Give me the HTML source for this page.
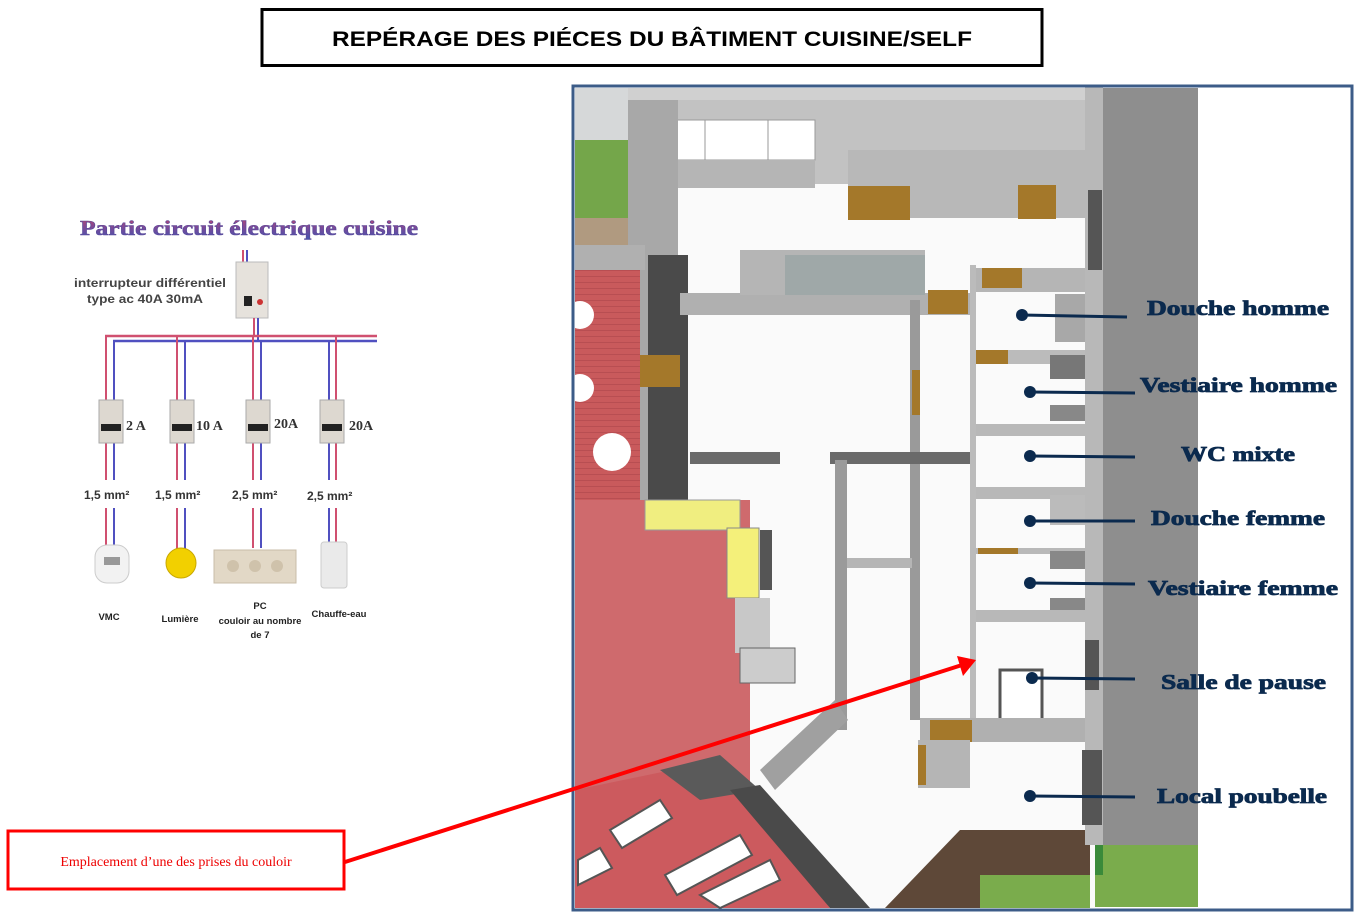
<!DOCTYPE html>
<html><head><meta charset="utf-8"><style>
html,body{margin:0;padding:0;background:#fff;width:1360px;height:916px;overflow:hidden}
svg{display:block}
</style></head><body>
<svg width="1360" height="916" viewBox="0 0 1360 916" xmlns="http://www.w3.org/2000/svg">
<defs>
<linearGradient id="tg" x1="0" y1="0" x2="0" y2="1"><stop offset="0" stop-color="#c0436a"/><stop offset="0.5" stop-color="#7a4a9a"/><stop offset="1" stop-color="#3f55b0"/></linearGradient>
<pattern id="stripe" width="6" height="6" patternUnits="userSpaceOnUse"><rect width="6" height="6" fill="#c95a5c"/><rect width="6" height="1" fill="#b84e52"/></pattern>
</defs>
<!-- Title -->
<rect x="262" y="9.5" width="780" height="56" fill="#fff" stroke="#000" stroke-width="3"/>
<text x="652" y="46" text-anchor="middle" font-family="Liberation Sans, sans-serif" font-weight="bold" font-size="21" textLength="640" lengthAdjust="spacingAndGlyphs">REPÉRAGE DES PIÉCES DU BÂTIMENT CUISINE/SELF</text>

<!-- Left circuit -->
<text x="80" y="235" font-family="Liberation Serif, serif" font-weight="900" font-size="21" fill="url(#tg)" stroke="#5a4a9a" stroke-width="0.6" textLength="338" lengthAdjust="spacingAndGlyphs">Partie circuit électrique cuisine</text>
<text x="74" y="287" font-family="Liberation Sans, sans-serif" font-weight="bold" font-size="12" fill="#444" textLength="152" lengthAdjust="spacingAndGlyphs">interrupteur différentiel</text>
<text x="87" y="303" font-family="Liberation Sans, sans-serif" font-weight="bold" font-size="12" fill="#444" textLength="116" lengthAdjust="spacingAndGlyphs">type ac 40A 30mA</text>
<!-- diff switch -->
<line x1="243" y1="250" x2="243" y2="262" stroke="#d05070" stroke-width="2"/><line x1="247" y1="250" x2="247" y2="262" stroke="#5050c0" stroke-width="2"/>
<rect x="236" y="262" width="32" height="56" fill="#e6e2dc" stroke="#bbb"/>
<rect x="244" y="296" width="8" height="10" fill="#222"/>
<circle cx="260" cy="302" r="3" fill="#c33"/>
<line x1="254" y1="318" x2="254" y2="336" stroke="#d05070" stroke-width="2"/><line x1="258" y1="318" x2="258" y2="341" stroke="#5050c0" stroke-width="2"/>
<!-- bus -->
<line x1="105" y1="336" x2="377" y2="336" stroke="#d05070" stroke-width="2.5"/>
<line x1="113" y1="341" x2="377" y2="341" stroke="#5050c0" stroke-width="2.5"/>
<g stroke-width="2">
<line x1="106" y1="336" x2="106" y2="400" stroke="#d05070"/><line x1="114" y1="341" x2="114" y2="400" stroke="#5050c0"/>
<line x1="177" y1="336" x2="177" y2="400" stroke="#d05070"/><line x1="185" y1="341" x2="185" y2="400" stroke="#5050c0"/>
<line x1="253" y1="336" x2="253" y2="400" stroke="#d05070"/><line x1="261" y1="341" x2="261" y2="400" stroke="#5050c0"/>
<line x1="336" y1="336" x2="336" y2="400" stroke="#d05070"/><line x1="329" y1="341" x2="329" y2="400" stroke="#5050c0"/>
<line x1="106" y1="443" x2="106" y2="480" stroke="#d05070"/><line x1="114" y1="443" x2="114" y2="480" stroke="#5050c0"/>
<line x1="177" y1="443" x2="177" y2="480" stroke="#d05070"/><line x1="185" y1="443" x2="185" y2="480" stroke="#5050c0"/>
<line x1="253" y1="443" x2="253" y2="480" stroke="#d05070"/><line x1="261" y1="443" x2="261" y2="480" stroke="#5050c0"/>
<line x1="336" y1="443" x2="336" y2="480" stroke="#d05070"/><line x1="329" y1="443" x2="329" y2="480" stroke="#5050c0"/>
<line x1="106" y1="508" x2="106" y2="545" stroke="#d05070"/><line x1="114" y1="508" x2="114" y2="545" stroke="#5050c0"/>
<line x1="177" y1="508" x2="177" y2="555" stroke="#d05070"/><line x1="185" y1="508" x2="185" y2="555" stroke="#5050c0"/>
<line x1="253" y1="508" x2="253" y2="548" stroke="#d05070"/><line x1="261" y1="508" x2="261" y2="548" stroke="#5050c0"/>
<line x1="336" y1="508" x2="336" y2="545" stroke="#d05070"/><line x1="329" y1="508" x2="329" y2="545" stroke="#5050c0"/>
</g>
<g fill="#ddd8d0" stroke="#aaa">
<rect x="99" y="400" width="24" height="43"/><rect x="170" y="400" width="24" height="43"/><rect x="246" y="400" width="24" height="43"/><rect x="320" y="400" width="24" height="43"/>
</g>
<g fill="#222"><rect x="101" y="424" width="20" height="7"/><rect x="172" y="424" width="20" height="7"/><rect x="248" y="424" width="20" height="7"/><rect x="322" y="424" width="20" height="7"/></g>
<g font-family="Liberation Serif, serif" font-weight="bold" font-size="14" fill="#333">
<text x="126" y="430">2 A</text><text x="196" y="430">10 A</text><text x="274" y="428">20A</text><text x="349" y="430">20A</text>
</g>
<g font-family="Liberation Sans, sans-serif" font-weight="bold" font-size="12" fill="#333">
<text x="84" y="499">1,5 mm²</text><text x="155" y="499">1,5 mm²</text><text x="232" y="499">2,5 mm²</text><text x="307" y="500">2,5 mm²</text>
</g>
<rect x="95" y="545" width="34" height="38" rx="12" fill="#f2f2f2" stroke="#ccc"/>
<rect x="104" y="557" width="16" height="8" fill="#999"/>
<circle cx="181" cy="563" r="15" fill="#f2d000" stroke="#c9a800"/>
<rect x="214" y="550" width="82" height="33" fill="#e2d8c6" stroke="#c8bca8"/>
<circle cx="233" cy="566" r="6" fill="#cfc2ab"/><circle cx="255" cy="566" r="6" fill="#cfc2ab"/><circle cx="277" cy="566" r="6" fill="#cfc2ab"/>
<rect x="321" y="542" width="26" height="46" rx="3" fill="#eaeaea" stroke="#ccc"/>
<g font-family="Liberation Sans, sans-serif" font-weight="bold" font-size="9.5" fill="#222" text-anchor="middle">
<text x="109" y="620">VMC</text><text x="180" y="622">Lumière</text>
<text x="260" y="609">PC</text><text x="260" y="624">couloir au nombre</text><text x="260" y="638">de 7</text>
<text x="339" y="617">Chauffe-eau</text>
</g>

<!-- Plan -->
<rect x="574" y="87" width="778" height="823" fill="#fff"/>
<rect x="575" y="88" width="525" height="820" fill="#fafafa"/>
<rect x="575" y="88" width="60" height="55" fill="#d6d8d9"/>
<rect x="575" y="140" width="55" height="78" fill="#74a64a"/>
<rect x="575" y="218" width="55" height="27" fill="#b09a80"/>
<rect x="628" y="88" width="475" height="14" fill="#d0d0d0"/>
<rect x="628" y="100" width="475" height="84" fill="#c2c2c2"/>
<rect x="645" y="120" width="170" height="40" fill="#fff" stroke="#999"/>
<line x1="705" y1="120" x2="705" y2="160" stroke="#999"/><line x1="768" y1="120" x2="768" y2="160" stroke="#999"/>
<rect x="645" y="160" width="170" height="28" fill="#b5b5b5"/>
<rect x="848" y="150" width="240" height="68" fill="#b8b8b8"/>
<rect x="848" y="186" width="62" height="34" fill="#a4782a"/>
<rect x="1018" y="185" width="38" height="34" fill="#a4782a"/>
<rect x="628" y="100" width="50" height="400" fill="#a8a8a8"/>
<rect x="648" y="255" width="40" height="250" fill="#4a4a4a"/>
<rect x="575" y="245" width="70" height="25" fill="#b0b0b0"/>
<rect x="575" y="270" width="65" height="230" fill="url(#stripe)"/>
<circle cx="580" cy="315" r="14" fill="#fff"/><circle cx="580" cy="388" r="14" fill="#fff"/><circle cx="612" cy="452" r="19" fill="#fff"/>
<rect x="652" y="292" width="48" height="18" fill="#a4782a" transform="skewX(20)"/>
<rect x="640" y="355" width="40" height="32" fill="#a4782a"/>
<rect x="680" y="293" width="290" height="22" fill="#b0b0b0"/>
<rect x="740" y="250" width="185" height="45" fill="#b5b5b5"/>
<rect x="785" y="255" width="140" height="40" fill="#9fa8a8"/>
<rect x="928" y="290" width="40" height="24" fill="#a4782a"/>
<rect x="910" y="300" width="10" height="420" fill="#9a9a9a"/>
<rect x="912" y="370" width="8" height="45" fill="#a4782a"/>
<rect x="970" y="268" width="120" height="24" fill="#b5b5b5"/>
<rect x="982" y="268" width="40" height="20" fill="#a4782a"/>
<rect x="1055" y="294" width="34" height="48" fill="#a8a8a8"/>
<rect x="970" y="350" width="120" height="14" fill="#bbb"/><rect x="972" y="350" width="36" height="14" fill="#a4782a"/>
<rect x="1050" y="355" width="38" height="24" fill="#777"/><rect x="1050" y="405" width="38" height="16" fill="#888"/>
<rect x="975" y="424" width="115" height="12" fill="#b8b8b8"/>
<rect x="975" y="487" width="115" height="12" fill="#b8b8b8"/><rect x="1050" y="495" width="38" height="30" fill="#bbb"/>
<rect x="975" y="548" width="115" height="6" fill="#b8b8b8"/><rect x="978" y="548" width="40" height="6" fill="#a4782a"/>
<rect x="1050" y="551" width="38" height="18" fill="#888"/><rect x="1050" y="598" width="38" height="18" fill="#888"/>
<rect x="975" y="610" width="115" height="12" fill="#b8b8b8"/>
<rect x="970" y="265" width="6" height="460" fill="#bbb"/>
<rect x="1000" y="670" width="42" height="60" fill="#fff" stroke="#555" stroke-width="3"/>
<rect x="920" y="718" width="170" height="24" fill="#b0b0b0"/><rect x="930" y="720" width="42" height="22" fill="#a4782a"/>
<rect x="918" y="740" width="52" height="48" fill="#b5b5b5"/><rect x="918" y="745" width="8" height="40" fill="#a4782a"/>
<rect x="830" y="452" width="140" height="12" fill="#6a6a6a"/>
<rect x="835" y="460" width="12" height="270" fill="#9a9a9a"/>
<rect x="847" y="558" width="65" height="10" fill="#b5b5b5"/>
<rect x="690" y="452" width="90" height="12" fill="#6a6a6a"/>
<rect x="575" y="500" width="175" height="295" fill="#cf6a6d"/>
<rect x="645" y="500" width="95" height="30" fill="#f0ee80" stroke="#999"/>
<rect x="727" y="528" width="32" height="70" fill="#f4f07a" stroke="#888"/>
<rect x="735" y="598" width="35" height="55" fill="#c8c8c8"/>
<rect x="740" y="648" width="55" height="35" fill="#ccc" stroke="#666"/>
<rect x="760" y="530" width="12" height="60" fill="#555"/>
<polygon points="575,790 720,760 830,908 575,908" fill="#cc5a5e"/>
<polygon points="660,770 720,755 760,790 700,800" fill="#5a5a5a"/>
<polygon points="730,790 760,785 870,908 830,908" fill="#4a4a4a"/>
<polygon points="760,770 835,700 848,720 775,790" fill="#a0a0a0"/>
<g fill="#fff" stroke="#555" stroke-width="2">
<polygon points="610,830 660,800 672,818 622,848"/><polygon points="578,860 600,848 612,868 578,885"/>
<polygon points="665,875 740,835 752,855 677,895"/><polygon points="700,895 770,860 780,880 720,908"/>
</g>
<polygon points="885,908 960,830 1090,830 1090,908" fill="#5e4838"/>
<rect x="980" y="875" width="110" height="33" fill="#7aac4c"/>
<rect x="1085" y="85" width="18" height="760" fill="#b8b8b8"/>
<rect x="1088" y="190" width="14" height="80" fill="#555"/>
<rect x="1085" y="640" width="14" height="50" fill="#555"/>
<rect x="1082" y="750" width="20" height="75" fill="#555"/>
<rect x="1103" y="88" width="95" height="757" fill="#8e8e8e"/>
<rect x="1095" y="845" width="105" height="62" fill="#7aac4c"/>
<rect x="1095" y="845" width="8" height="30" fill="#3a8a3a"/>
<rect x="1198" y="88" width="152" height="820" fill="#fff"/>
<rect x="573" y="86" width="779" height="824" fill="none" stroke="#3c5c88" stroke-width="3"/>

<!-- label connectors -->
<g stroke="#0b2a4e" stroke-width="3">
<line x1="1022" y1="315" x2="1127" y2="317"/>
<line x1="1030" y1="392" x2="1135" y2="393"/>
<line x1="1030" y1="456" x2="1135" y2="457"/>
<line x1="1030" y1="521" x2="1135" y2="521"/>
<line x1="1030" y1="583" x2="1135" y2="584"/>
<line x1="1032" y1="678" x2="1135" y2="679"/>
<line x1="1030" y1="796" x2="1135" y2="797"/>
</g>
<g fill="#0b2a4e">
<circle cx="1022" cy="315" r="6"/><circle cx="1030" cy="392" r="6"/><circle cx="1030" cy="456" r="6"/><circle cx="1030" cy="521" r="6"/><circle cx="1030" cy="583" r="6"/><circle cx="1032" cy="678" r="6"/><circle cx="1030" cy="796" r="6"/>
</g>
<g font-family="Liberation Serif, serif" font-weight="bold" font-size="21" fill="#0b2a4e" stroke="#0b2a4e" stroke-width="0.8" lengthAdjust="spacingAndGlyphs">
<text x="1147" y="315" textLength="182" lengthAdjust="spacingAndGlyphs">Douche homme</text>
<text x="1140" y="392" textLength="197" lengthAdjust="spacingAndGlyphs">Vestiaire homme</text>
<text x="1181" y="461" textLength="114" lengthAdjust="spacingAndGlyphs">WC mixte</text>
<text x="1151" y="525" textLength="174" lengthAdjust="spacingAndGlyphs">Douche femme</text>
<text x="1148" y="595" textLength="190" lengthAdjust="spacingAndGlyphs">Vestiaire femme</text>
<text x="1161" y="689" textLength="165" lengthAdjust="spacingAndGlyphs">Salle de pause</text>
<text x="1157" y="803" textLength="170" lengthAdjust="spacingAndGlyphs">Local poubelle</text>
</g>

<!-- red arrow -->
<line x1="345" y1="862" x2="962" y2="665" stroke="#ff0000" stroke-width="4"/>
<polygon points="976,660 957,656 963,676" fill="#ff0000"/>
<rect x="8" y="831" width="336" height="58" fill="#fff" stroke="#ff0000" stroke-width="3"/>
<text x="176" y="866" text-anchor="middle" font-family="Liberation Serif, serif" font-size="14" fill="#ee0000">Emplacement d’une des prises du couloir</text>
</svg>
</body></html>
